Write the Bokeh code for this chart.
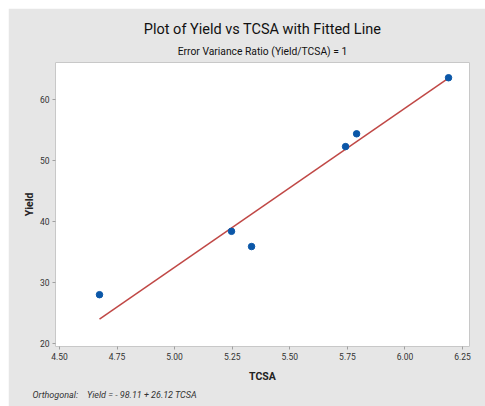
from bokeh.plotting import figure
from bokeh.models import Title, FixedTicker, Range1d
from bokeh.embed import file_html
from bokeh.resources import INLINE

tcsa = [4.674, 5.247, 5.334, 5.742, 5.790, 6.189]
yield_ = [28.0, 38.4, 35.9, 52.3, 54.4, 63.6]
intercept = -98.11
slope = 26.12
x_ticks = [4.50, 4.75, 5.00, 5.25, 5.50, 5.75, 6.00, 6.25]
y_ticks = [20, 30, 40, 50, 60]

BG = "#E6E6E6"
FONT = "Roboto"
W, H = 477, 398
BL, BR, BT, BB = 47, 16, 54, 60

p = figure(width=W, height=H, output_backend="svg", toolbar_location=None,
           x_range=Range1d(4.483, 6.280), y_range=Range1d(19.5, 66.1),
           min_border_left=BL, min_border_right=BR, min_border_top=BT, min_border_bottom=BB)
p.margin = (8, 0, 0, 8)
p.background_fill_color = "white"
p.border_fill_color = BG
p.outline_line_color = "#C8C8C8"
p.grid.visible = False

fit_x = [min(tcsa), max(tcsa)]
fit_y = [intercept + slope * v for v in fit_x]
p.line(fit_x, fit_y, line_color="#C04846", line_width=1.5)
p.scatter(tcsa, yield_, size=6.5, fill_color="#0B57A8", line_color="#0B57A8")

for ax in (p.xaxis[0], p.yaxis[0]):
    ax.axis_line_color = None
    ax.major_tick_line_color = "#A0A0A0"
    ax.major_tick_out = 3
    ax.major_tick_in = 0
    ax.minor_tick_line_color = None
    ax.major_label_text_font = FONT
    ax.major_label_text_font_size = "8.5px"
    ax.major_label_text_color = "#333333"
    ax.axis_label_text_font = FONT
    ax.axis_label_text_font_style = "bold"
    ax.axis_label_text_font_size = "10.5px"
    ax.axis_label_text_color = "#222222"

p.xaxis.ticker = FixedTicker(ticks=x_ticks)
p.xaxis.major_label_overrides = {t: f"{t:.2f}" for t in x_ticks}
p.yaxis.ticker = FixedTicker(ticks=y_ticks)
p.xaxis.axis_label = "TCSA"
p.yaxis.axis_label = "Yield"
p.xaxis.major_label_standoff = 3
p.yaxis.major_label_standoff = 3
p.xaxis.axis_label_standoff = 7
p.yaxis.axis_label_standoff = 1

sub = Title(text="Error Variance Ratio (Yield/TCSA) = 1", align="center", offset=-13,
            text_font=FONT, text_font_size="10.3px", text_font_style="normal",
            text_color="#111111", standoff=10, text_line_height=0.6)
main = Title(text="Plot of Yield vs TCSA with Fitted Line", align="center", offset=-13,
             text_font=FONT, text_font_size="14.5px", text_font_style="normal",
             text_color="#111111", standoff=0, text_line_height=0.8)
p.add_layout(sub, "above")
p.add_layout(main, "above")

foot = Title(text="Orthogonal:\u00a0\u00a0\u00a0\u00a0Yield = - 98.11 + 26.12 TCSA",
             align="left", offset=-23, text_font=FONT, text_font_size="9px",
             text_font_style="italic", text_color="#333333", standoff=4)
p.add_layout(foot, "below")

open("out.html", "w").write(file_html(p, INLINE))
